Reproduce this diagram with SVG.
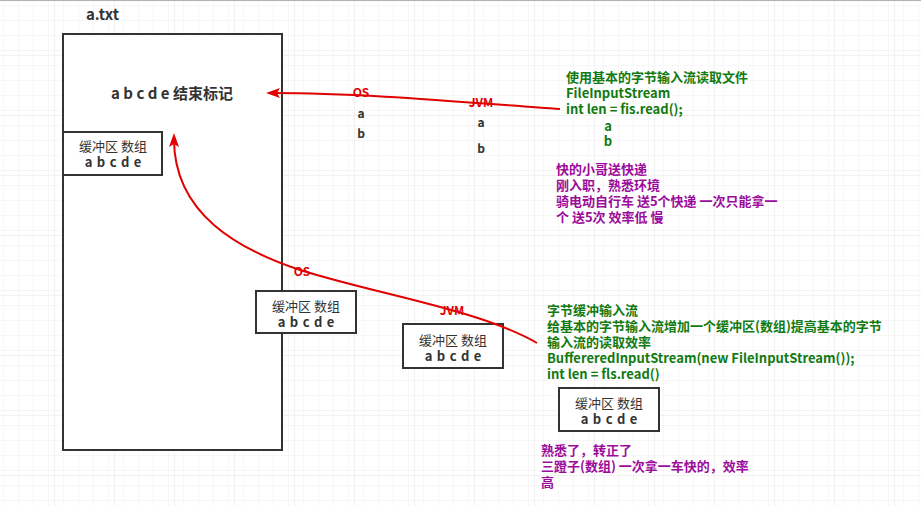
<svg xmlns="http://www.w3.org/2000/svg" width="921" height="506" viewBox="0 0 921 506">
<style>
text{font-family:"Noto Sans CJK SC","Noto Sans",sans-serif;}
.box{fill:#fff;stroke:#333;stroke-width:2;}
.bt{font-size:13px;fill:#333;text-anchor:middle;}
.bl{font-size:13px;font-weight:bold;fill:#333;text-anchor:middle;word-spacing:1.5px;}
.red{font-size:12px;font-weight:bold;fill:#e00000;text-anchor:middle;}
.ab{font-size:12px;font-weight:bold;fill:#333;text-anchor:middle;}
.green{font-size:13px;font-weight:bold;fill:#117a11;}
.purple{font-size:13px;font-weight:bold;fill:#9c0c9c;}
.conn{fill:none;stroke:#e00000;stroke-width:2;}
</style>
<defs>
<pattern id="minor" patternUnits="userSpaceOnUse" x="9" y="10" width="15" height="15">
<path d="M0,0 H15 M0,0 V15" fill="none" stroke="#efefef" stroke-width="1"/>
</pattern>
<pattern id="major" patternUnits="userSpaceOnUse" x="54" y="55" width="60" height="60">
<rect width="60" height="60" fill="url(#minor)"/>
<path d="M0,0 H60 M0,0 V60" fill="none" stroke="#e4e4e4" stroke-width="1"/>
</pattern>
<marker id="arr" markerUnits="userSpaceOnUse" viewBox="0 0 14 10" refX="8" refY="5" markerWidth="14" markerHeight="10" orient="auto">
<path d="M0,0 L14,5 L0,10 L3,5 Z" fill="#e00000"/>
</marker>
</defs>
<rect width="921" height="506" fill="#fff"/>
<rect x="0" y="0" width="921" height="506" fill="url(#major)"/>
<line x1="0" y1="0.5" x2="921" y2="0.5" stroke="#b0b0b0" stroke-width="1"/>

<g id="file">
<text x="86" y="20" font-size="15" font-weight="bold" fill="#333">a.txt</text>
<rect class="box" x="63" y="34" width="219" height="416"/>
<text x="172" y="99" font-size="15" font-weight="bold" fill="#333" text-anchor="middle">a b c d e 结束标记</text>
</g>

<g id="buffer-file">
<rect class="box" x="63" y="132" width="99" height="43"/>
<text class="bt" x="113" y="151">缓冲区 数组</text>
<text class="bl" x="113" y="167">a b c d e</text>
</g>

<g id="buffer-os">
<rect class="box" x="256" y="291" width="100" height="42"/>
<text class="bt" x="306" y="311">缓冲区 数组</text>
<text class="bl" x="306" y="327">a b c d e</text>
</g>

<g id="buffer-jvm">
<rect class="box" x="403" y="324" width="100" height="44"/>
<text class="bt" x="453" y="345">缓冲区 数组</text>
<text class="bl" x="453" y="361">a b c d e</text>
</g>

<g id="buffer-program">
<rect class="box" x="559" y="388" width="100" height="43"/>
<text class="bt" x="609" y="408">缓冲区 数组</text>
<text class="bl" x="609" y="424">a b c d e</text>
</g>

<g id="connectors">
<path class="conn" d="M560,109 C450,101 360,93 272,93" marker-end="url(#arr)"/>
<path class="conn" d="M537,343 C480,310 380,295 300,270 C240,250 174,215 174,139" marker-end="url(#arr)"/>
</g>

<g id="labels-top">
<text class="red" x="361" y="97">OS</text>
<text class="ab" x="361" y="118">a</text>
<text class="ab" x="361" y="138">b</text>
<text class="red" x="481" y="107">JVM</text>
<text class="ab" x="481" y="127">a</text>
<text class="ab" x="481" y="153">b</text>
</g>

<g id="labels-bottom">
<text class="red" x="302" y="276">OS</text>
<text class="red" x="452" y="315">JVM</text>
</g>

<g id="note-basic">
<text class="green" x="566" y="82">使用基本的字节输入流读取文件</text>
<text class="green" x="566" y="98">FileInputStream</text>
<text class="green" x="566" y="114">int len = fis.read();</text>
<text class="green" x="608" y="131" text-anchor="middle">a</text>
<text class="green" x="608" y="146" text-anchor="middle">b</text>
</g>

<g id="note-courier">
<text class="purple" x="556" y="174">快的小哥送快递</text>
<text class="purple" x="556" y="190">刚入职，熟悉环境</text>
<text class="purple" x="556" y="206">骑电动自行车 送5个快递 一次只能拿一</text>
<text class="purple" x="556" y="222">个 送5次 效率低 慢</text>
</g>

<g id="note-buffered">
<text class="green" x="547" y="315">字节缓冲输入流</text>
<text class="green" x="547" y="331">给基本的字节输入流增加一个缓冲区(数组)提高基本的字节</text>
<text class="green" x="547" y="347">输入流的读取效率</text>
<text class="green" x="547" y="363">BuffereredInputStream(new FileInputStream());</text>
<text class="green" x="547" y="379">int len = fls.read()</text>
</g>

<g id="note-tricycle">
<text class="purple" x="541" y="455">熟悉了，转正了</text>
<text class="purple" x="541" y="471">三蹬子(数组) 一次拿一车快的，效率</text>
<text class="purple" x="541" y="487">高</text>
</g>
</svg>
